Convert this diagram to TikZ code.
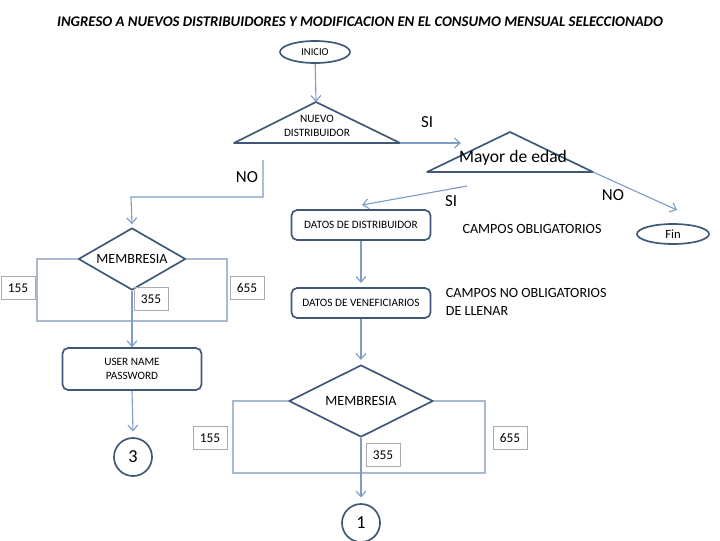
\documentclass[tikz,border=0pt]{standalone}
\usepackage{fontspec}
\setmainfont{Carlito}
\usetikzlibrary{shapes.geometric,arrows.meta}

\definecolor{nodeblue}{HTML}{3F5878}
\definecolor{arrowblue}{HTML}{7D9CC6}
\definecolor{framegray}{HTML}{A9B9CE}
\definecolor{boxgray}{HTML}{ABABAB}

\tikzset{
  term/.style={ellipse, draw=nodeblue, line width=1.2pt, inner sep=0pt, font=\fontsize{7.5}{8}\selectfont},
  process/.style={draw=nodeblue, line width=1.2pt, rounded corners=4pt, minimum width=3.475cm, minimum height=0.75cm, align=center, font=\fontsize{8}{10}\selectfont},
  decision/.style={diamond, draw=nodeblue, line width=1.2pt, inner sep=0pt, font=\fontsize{10}{11}\selectfont},
  valbox/.style={draw=boxgray, line width=0.6pt, minimum width=0.85cm, minimum height=0.57cm, font=\fontsize{9.5}{10}\selectfont},
  connector/.style={circle, draw=nodeblue, line width=1.2pt, minimum size=0.95cm, inner sep=0pt, font=\fontsize{13}{14}\selectfont},
  flow/.style={draw=arrowblue, line width=0.8pt, -{Straight Barb[length=4pt,width=7pt]}},
  branch/.style={draw=framegray, line width=0.8pt},
  tag/.style={font=\fontsize{12}{13}\selectfont},
}

\begin{document}
\begin{tikzpicture}[x=0.025cm, y=-0.025cm]
    \useasboundingbox (0,0) rectangle (720,540);

    % title
    \node (title) at (360,22) {\fontsize{10.5}{12}\selectfont\bfseries\itshape INGRESO A NUEVOS DISTRIBUIDORES Y MODIFICACION EN EL CONSUMO MENSUAL SELECCIONADO};

    % start
    \node[term, minimum width=1.75cm, minimum height=0.55cm] (inicio) at (315,52) {INICIO};

    % NUEVO DISTRIBUIDOR triangle
    \coordinate (nd top) at (316,102);
    \coordinate (nd left) at (234,143);
    \coordinate (nd right) at (400,143);
    \draw[nodeblue, line width=1.2pt, line join=round] (nd top) -- (nd left) -- (nd right) -- cycle;
    \node[align=center, font=\fontsize{8}{10}\selectfont] (nd) at (317,126) {NUEVO\\DISTRIBUIDOR};

    % Mayor de edad triangle
    \coordinate (me top) at (510,132);
    \coordinate (me left) at (427,172);
    \coordinate (me right) at (593,172);
    \draw[nodeblue, line width=1.2pt, line join=round] (me top) -- (me left) -- (me right) -- cycle;
    \node[font=\fontsize{12.5}{13}\selectfont] (me) at (513,158) {Mayor de edad};

    % end
    \node[term, minimum width=1.8cm, minimum height=0.5cm, font=\fontsize{9}{10}\selectfont] (fin) at (673,234) {Fin};

    % free ends
    \coordinate (me in) at (461,143);
    \coordinate (fin in) at (677,210);
    \coordinate (si start) at (467,186);
    \coordinate (dd in) at (362,205);
    \coordinate (no start) at (263,160);
    \coordinate (no turn) at (131,197);

    \draw[flow] (inicio) -- (nd top);
    \draw[flow] (nd right) -- (me in);
    \draw[flow] (me right) -- (fin in);
    \draw[flow] (si start) -- (dd in);

    \node[tag] (si1) at (427,122) {SI};
    \node[tag] (no2) at (613,195) {NO};
    \node[tag] (si2) at (451,201) {SI};
    \node[tag] (no1) at (247,177) {NO};

    % left branch
    \node[decision, aspect=1.7, minimum width=2.68cm, minimum height=1.55cm] (mem1) at (132,259) {MEMBRESIA};
    \draw[flow] (no start) |- (no turn) -- ([yshift=2pt]mem1.north);
    \coordinate (f1a) at (37,321);
    \coordinate (f1b) at (227,321);
    \draw[branch] (mem1.west) -| (f1a) -- (f1b) |- (mem1.east);
    \node[valbox] (v155a) at (18,288) {155};
    \node[valbox] (v655a) at (247,288) {655};
    \node[valbox] (v355a) at (151,299) {355};

    \node[process, minimum height=1.05cm] (user) at (132,369) {USER NAME\\PASSWORD};
    \node[connector] (c3) at (133,457) {3};
    \draw[flow] (mem1.south) -- (user.north);
    \draw[flow] (user.south) -- ([yshift=4pt]c3.north);

    % right branch
    \node[process] (dd) at (361,225) {DATOS DE DISTRIBUIDOR};
    \node[process] (dv) at (361,303) {DATOS DE VENEFICIARIOS};
    \node[font=\fontsize{10}{11}\selectfont] (co) at (532,229) {CAMPOS OBLIGATORIOS};
    \node[anchor=west, align=left, font=\fontsize{10}{12.5}\selectfont] (cno) at (441,302) {CAMPOS NO OBLIGATORIOS\\DE LLENAR};
    \draw[flow] (dd.south) -- ([yshift=3pt]dv.north);

    \node[decision, aspect=2, minimum width=3.6cm, minimum height=1.8cm] (mem2) at (361,401) {MEMBRESIA};
    \draw[flow] (dv.south) -- ([yshift=3pt]mem2.north);
    \coordinate (f2a) at (233,473);
    \coordinate (f2b) at (485,473);
    \draw[branch] (mem2.west) -| (f2a) -- (f2b) |- (mem2.east);
    \node[valbox] (v155b) at (210,438) {155};
    \node[valbox] (v655b) at (510,438) {655};
    \node[valbox] (v355b) at (383,455) {355};

    \node[connector] (c1) at (361,523) {1};
    \draw[flow] (mem2.south) -- ([yshift=4pt]c1.north);
\end{tikzpicture}
\end{document}
